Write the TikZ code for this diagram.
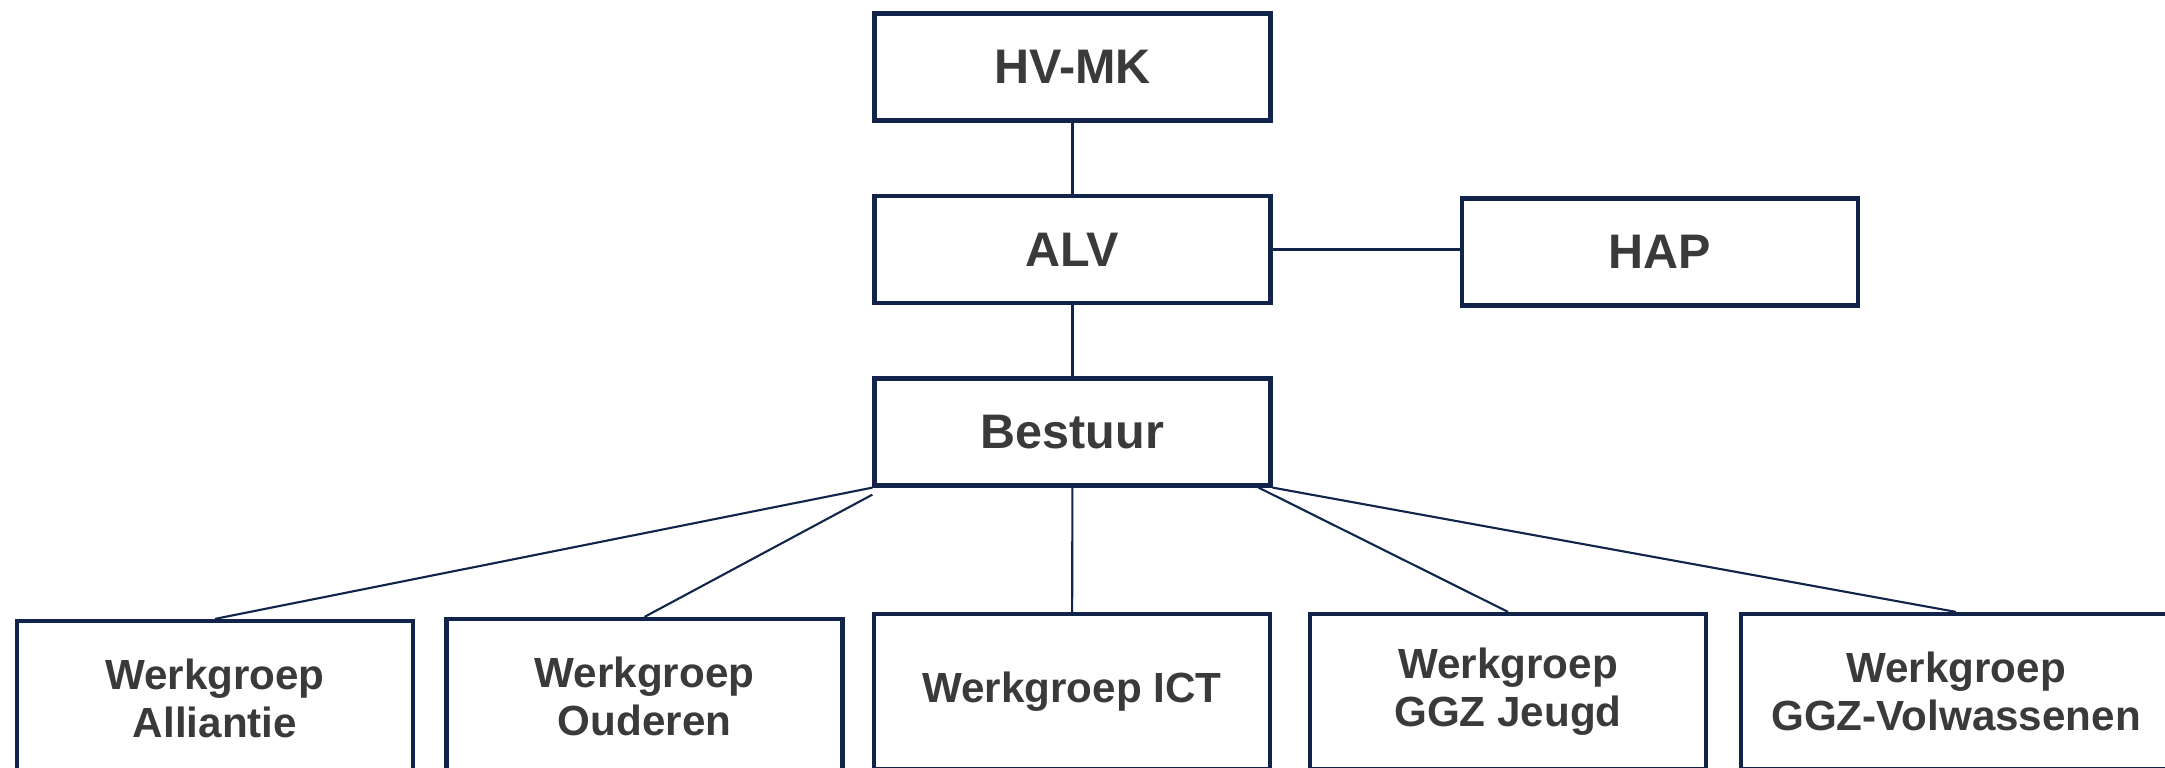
\documentclass[tikz,border=0pt]{standalone}
\usepackage{fontspec}
\setmainfont{Liberation Sans}
\definecolor{navy}{HTML}{13244A}
\definecolor{txtgray}{HTML}{3A3A3A}
\tikzset{
  orgbox/.style={draw=navy,line width=1.2pt,fill=white,inner sep=0pt,
    minimum width=3.96cm,minimum height=1.07cm,align=center,
    text=txtgray,font=\fontsize{13.8}{16}\selectfont\bfseries},
  wgbox/.style={orgbox,minimum height=1.55cm,
    font=\fontsize{12}{13.6}\selectfont\bfseries},
  link/.style={draw=navy,line width=0.6pt}
}
\begin{document}
\begin{tikzpicture}
	\useasboundingbox (0,0) rectangle (21.65,-7.68);

	% top row
	\node[orgbox] (hvmk) at (10.725,-0.67) {HV-MK};
	\node[orgbox] (alv) at (10.725,-2.495) {ALV};
	\node[orgbox] (hap) at (16.6,-2.52) {HAP};
	\node[orgbox] (bestuur) at (10.725,-4.32) {Bestuur};

	% werkgroepen
	\node[wgbox] (alliantie) at (2.15,-6.985) {Werkgroep\\Alliantie};
	\node[wgbox] (ouderen) at (6.445,-6.965) {Werkgroep\\Ouderen};
	\node[wgbox] (ict) at (10.72,-6.915) {Werkgroep ICT};
	\node[wgbox] (jeugd) at (15.08,-6.915) {Werkgroep\\GGZ Jeugd};
	\node[wgbox,minimum width=4.3cm] (volw) at (19.56,-6.915) {Werkgroep\\GGZ-Volwassenen};

	\draw[link] (hvmk) -- (alv);
	\draw[link] (alv.east) -- (alv.east -| hap.west);
	\draw[link] (alv) -- (bestuur);

	\draw[link] (bestuur.south west) -- (alliantie.north);
	\draw[link] ([yshift=-2pt]bestuur.south west) -- (ouderen.north);
	\draw[link] (bestuur) -- (ict);
	\draw[link] ([xshift=-4pt]bestuur.south east) -- (jeugd.north);
	\draw[link] (bestuur.south east) -- (volw.north);
\end{tikzpicture}
\end{document}
